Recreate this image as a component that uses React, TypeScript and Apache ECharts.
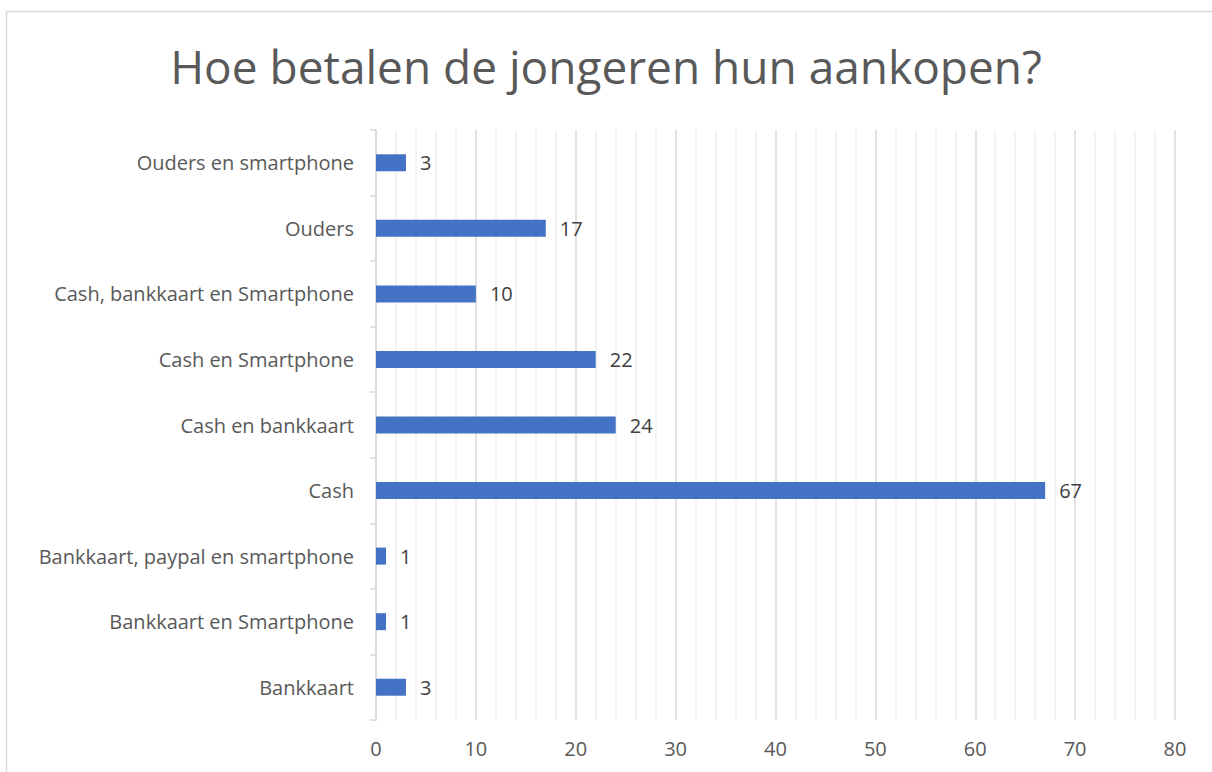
import React, { useEffect, useRef } from "react";
import * as echarts from "echarts";

const categories = [
  "Bankkaart",
  "Bankkaart en Smartphone",
  "Bankkaart, paypal en smartphone",
  "Cash",
  "Cash en bankkaart",
  "Cash en Smartphone",
  "Cash, bankkaart en Smartphone",
  "Ouders",
  "Ouders en smartphone",
];
const values = [3, 1, 1, 67, 24, 22, 10, 17, 3];
const xMin = 0;
const xMax = 80;
const xInterval = 10;
const title = "Hoe betalen de jongeren hun aankopen?";

const FONT = "'Open Sans', sans-serif";
const TEXT = "#595959";

export default function App() {
  const ref = useRef<HTMLDivElement>(null);
  useEffect(() => {
    if (!ref.current) return;
    const chart = echarts.init(ref.current, undefined, { renderer: "svg" });
    chart.setOption({
      animation: false,
      backgroundColor: "#ffffff",
      graphic: [
        {
          type: "rect",
          shape: { x: 6.5, y: 11.5, width: 1220, height: 800 },
          style: { fill: "none", stroke: "#d9d9d9", lineWidth: 1.5 },
          silent: true,
        },
      ],
      title: {
        text: title,
        left: "center",
        top: 38,
        textStyle: { fontFamily: FONT, fontSize: 46, fontWeight: "normal", color: TEXT },
      },
      grid: { left: 376, right: 37, top: 130, bottom: 52, containLabel: false },
      xAxis: {
        type: "value",
        min: xMin,
        max: xMax,
        interval: xInterval,
        axisLine: { show: false },
        axisTick: { show: false },
        axisLabel: { fontFamily: FONT, fontSize: 20, color: TEXT, margin: 18 },
        splitLine: { show: true, lineStyle: { color: "#d9d9d9", width: 1.5 } },
        minorTick: { show: false, splitNumber: 5 },
        minorSplitLine: { show: true, lineStyle: { color: "#efefef", width: 1.5 } },
      },
      yAxis: {
        type: "category",
        data: categories,
        axisLine: { show: true, lineStyle: { color: "#d9d9d9", width: 1.5 } },
        axisTick: { show: true, length: 6, lineStyle: { color: "#d9d9d9", width: 1.5 } },
        axisLabel: { fontFamily: FONT, fontSize: 20, color: TEXT, margin: 22 },
        splitLine: { show: false },
      },
      series: [
        {
          type: "bar",
          data: values,
          barWidth: 17,
          itemStyle: { color: "#4472C4" },
          label: {
            show: true,
            position: "right",
            distance: 14,
            fontFamily: FONT,
            fontSize: 20,
            color: "#404040",
          },
        },
      ],
    });
    return () => chart.dispose();
  }, []);
  return (
    <div
      ref={ref}
      style={{ position: "absolute", left: 0, top: 0, width: 1212, height: 772 }}
    />
  );
}
